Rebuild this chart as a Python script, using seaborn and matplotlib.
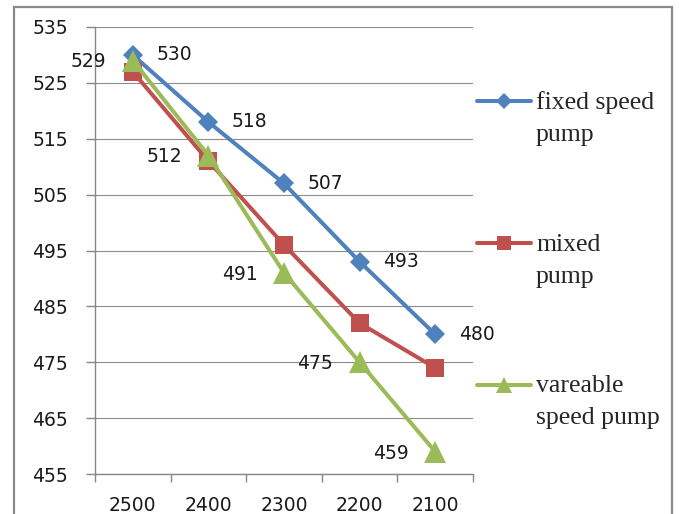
import matplotlib
matplotlib.use("Agg")
import matplotlib.pyplot as plt
import seaborn as sns
import pandas as pd
from matplotlib.patches import Rectangle

# ---- data ----
speeds = ["2500", "2400", "2300", "2200", "2100"]
fixed_speed = [530, 518, 507, 493, 480]
mixed_pump = [527, 511, 496, 482, 474]
variable_speed = [529, 512, 491, 475, 459]
series_labels = ["fixed speed\npump", "mixed\npump", "vareable\nspeed pump"]
y_ticks = [455, 465, 475, 485, 495, 505, 515, 525, 535]

sns.set_theme(style="white")
plt.rcParams["font.family"] = ["DejaVu Sans"]

W, H = 679, 514
fig = plt.figure(figsize=(W / 100, H / 100), dpi=100)
ax = fig.add_axes([95 / W, 40 / H, 378 / W, 447 / H])

colors = ["#4F81BD", "#C0504D", "#9BBB59"]
markers = ["D", "s", "^"]
msizes = [10.5, 13, 15.5]
leg_msizes = [8, 10.5, 12]
values = [fixed_speed, mixed_pump, variable_speed]

for vals, lab, c, m, ms in zip(values, series_labels, colors, markers, msizes):
    df = pd.DataFrame({"speed": speeds, "value": vals})
    sns.lineplot(data=df, x="speed", y="value", sort=False, ax=ax, color=c,
                 marker=m, markersize=ms, markeredgewidth=0, linewidth=2.9,
                 label=lab)

# data labels
for i, v in enumerate(fixed_speed):
    ax.annotate(str(v), (i, v), xytext=(17, 0), textcoords="offset points",
                ha="left", va="center", fontsize=13.5, color="#1a1a1a")
for i, v in enumerate(variable_speed):
    ax.annotate(str(v), (i, v), xytext=(-19, -1), textcoords="offset points",
                ha="right", va="center", fontsize=13.5, color="#1a1a1a")

ax.set_xlim(-0.5, 4.5)
ax.set_ylim(455, 535)
ax.set_yticks(y_ticks)
ax.set_yticklabels([str(t) for t in y_ticks], fontsize=13.5, color="#1a1a1a")
ax.set_xticks(range(len(speeds)))
ax.set_xticklabels(speeds, fontsize=13.5, color="#1a1a1a")
ax.set_xticks([i - 0.5 for i in range(len(speeds) + 1)], minor=True)
ax.tick_params(axis="x", which="major", length=0, pad=16)
ax.tick_params(axis="x", which="minor", length=6, width=1, color="#868686",
               direction="out", bottom=True)
ax.tick_params(axis="y", length=6.5, width=1, color="#868686", direction="out",
               pad=13, left=True)
ax.set_xlabel("")
ax.set_ylabel("")
ax.grid(axis="y", color="#8c8c8c", linewidth=0.8)
ax.grid(axis="x", visible=False)
ax.set_axisbelow(True)
for s in ["top", "right"]:
    ax.spines[s].set_visible(False)
for s in ["left", "bottom"]:
    ax.spines[s].set_color("#868686")
    ax.spines[s].set_linewidth(1)

leg = ax.legend(loc="upper left", bbox_to_anchor=(477 / W, 1 - 91 / H),
                bbox_transform=fig.transFigure, frameon=False,
                prop={"family": "Liberation Serif", "size": 18.5},
                handlelength=2.1, handletextpad=0.2, labelspacing=3.4,
                borderpad=0, borderaxespad=0)
for t in leg.get_texts():
    t.set_linespacing(1.6)
for h, lms in zip(leg.legend_handles, leg_msizes):
    h.set_ydata([y + 12.0 for y in h.get_ydata()])
    h.set_markersize(lms)

# chart frame (partially cropped, like the reference)
fig.add_artist(Rectangle((14 / W, -0.1), (672 - 14) / W, 1.1 - 7 / H,
                         transform=fig.transFigure, fill=False,
                         edgecolor="#8a8a8a", linewidth=1.6))

fig.savefig("out.png", dpi=100)
